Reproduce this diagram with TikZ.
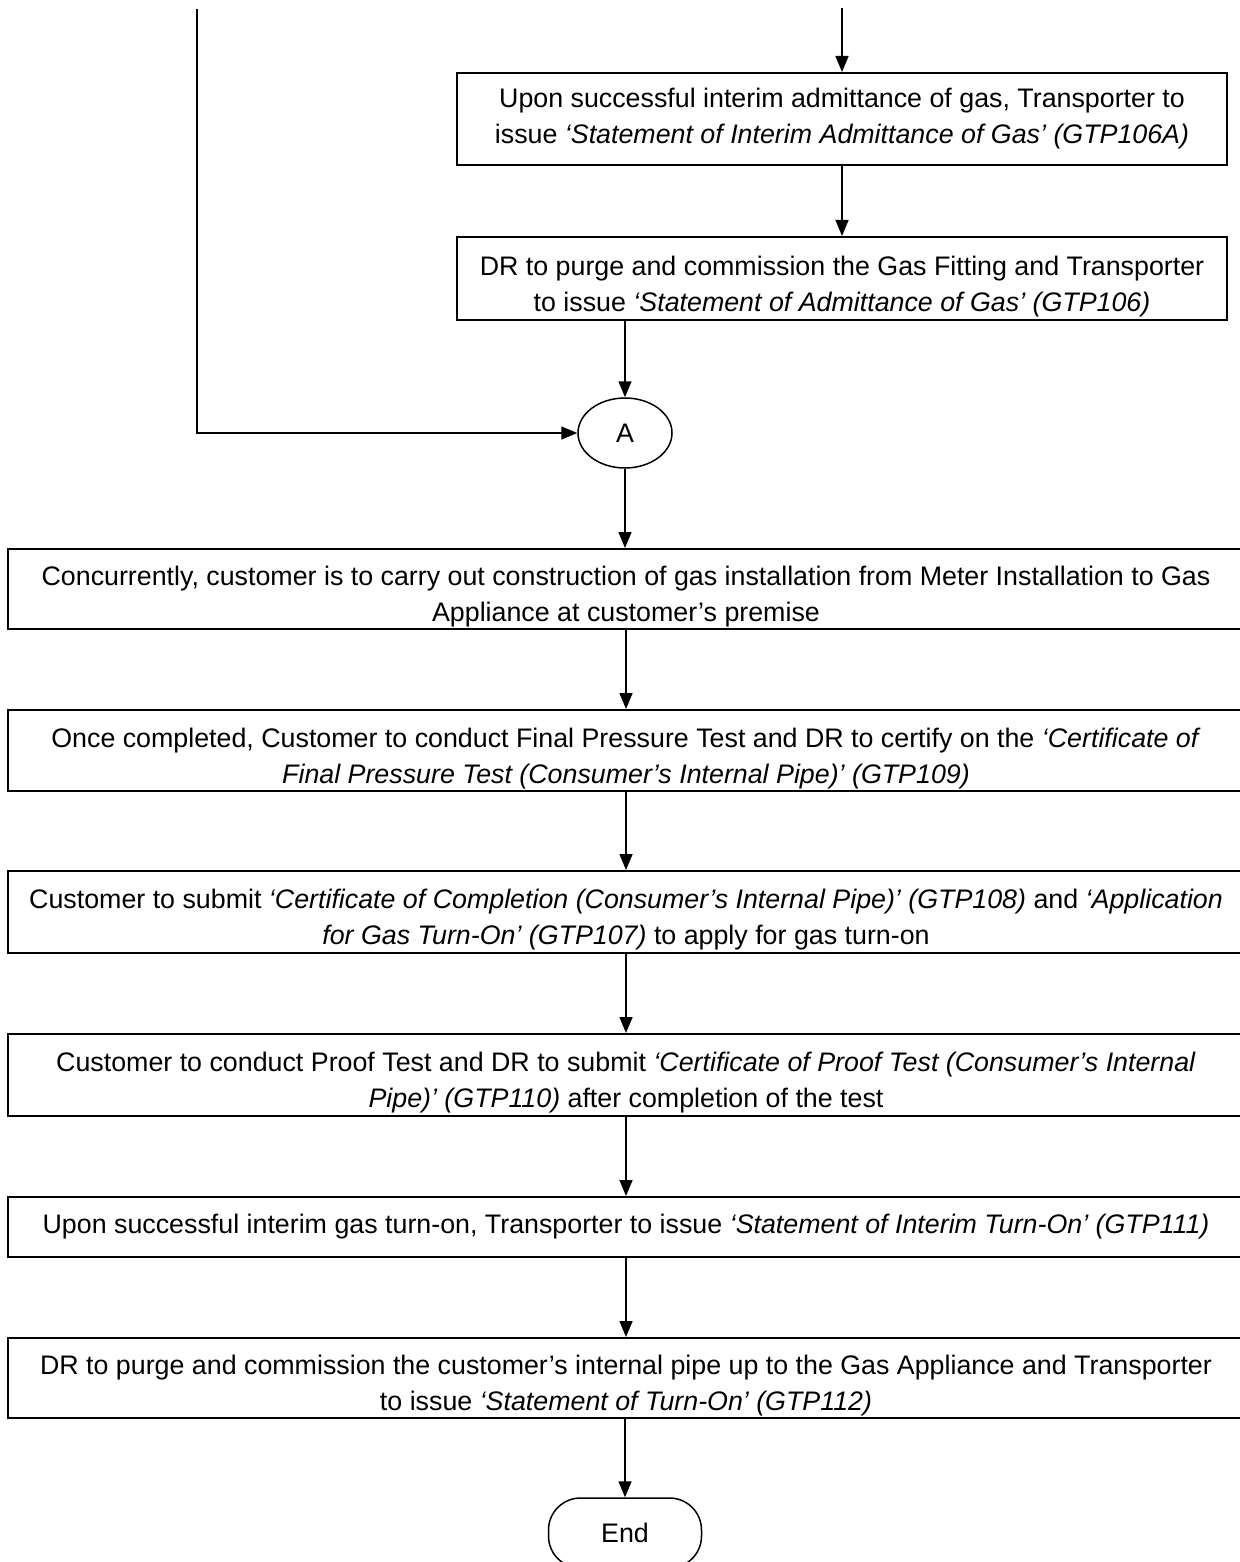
\documentclass[tikz,border=0pt]{standalone}
\usepackage{fontspec}
\setmainfont{Liberation Sans}
\usetikzlibrary{arrows.meta,shapes.geometric}
\begin{document}
\begin{tikzpicture}[x=0.5pt,y=-0.5pt,
  txt/.style={font=\fontsize{13.4}{18}\selectfont, align=center, inner sep=0pt},
  procbox/.style={txt, draw, line width=1pt, minimum width=#1},
  procbox/.default=385pt,
  wide/.style={procbox=618pt},
  lowtext/.style={text height=35.5pt},
  conn/.style={line width=0.75pt, -{Triangle[length=8pt,width=6.5pt]}},
  connector/.style={txt, draw, line width=0.75pt, ellipse, minimum width=47pt, minimum height=35pt},
  terminal/.style={txt, draw, line width=0.75pt, rounded corners=16pt, minimum width=76.5pt, minimum height=35pt}]
\useasboundingbox (0,0) rectangle (1239,1562);
\fill[white] (0,0) rectangle (1239,1562);

\coordinate (topin) at (842,8);
\coordinate (leftin) at (197,9);

\node[procbox, minimum height=46pt] (b1) at (842,119)
  {Upon successful interim admittance of gas, Transporter to\\
   issue \textit{‘Statement of Interim Admittance of Gas’ (GTP106A)}};
\node[procbox, lowtext, minimum height=41.5pt] (b2) at (842,278.5)
  {DR to purge and commission the Gas Fitting and Transporter\\
   to issue \textit{‘Statement of Admittance of Gas’ (GTP106)}};
\node[connector] (a) at (625,433) {A};
\node[wide, lowtext, minimum height=40pt] (b3) at (626,589)
  {Concurrently, customer is to carry out construction of gas installation from Meter Installation to Gas\\
   Appliance at customer’s premise};
\node[wide, lowtext, minimum height=40.5pt] (b4) at (626,750.5)
  {Once completed, Customer to conduct Final Pressure Test and DR to certify on the \textit{‘Certificate of}\\
   \textit{Final Pressure Test (Consumer’s Internal Pipe)’ (GTP109)}};
\node[wide, lowtext, minimum height=41pt] (b5) at (626,912)
  {Customer to submit \textit{‘Certificate of Completion (Consumer’s Internal Pipe)’ (GTP108)} and \textit{‘Application}\\
   \textit{for Gas Turn-On’ (GTP107)} to apply for gas turn-on};
\node[wide, lowtext, minimum height=41pt] (b6) at (626,1075)
  {Customer to conduct Proof Test and DR to submit \textit{‘Certificate of Proof Test (Consumer’s Internal}\\
   \textit{Pipe)’ (GTP110)} after completion of the test};
\node[wide, minimum height=30pt] (b7) at (626,1227)
  {Upon successful interim gas turn-on, Transporter to issue \textit{‘Statement of Interim Turn-On’ (GTP111)}};
\node[wide, lowtext, minimum height=40pt] (b8) at (626,1378)
  {DR to purge and commission the customer’s internal pipe up to the Gas Appliance and Transporter\\
   to issue \textit{‘Statement of Turn-On’ (GTP112)}};
\node[terminal] (end) at (625,1533) {End};

\draw[conn] (topin) -- (b1.north);
\draw[conn] (b1) -- (b2);
\draw[conn] (b2.south -| a.north) -- (a.north);
\draw[conn] (leftin) |- (a.west);
\draw[conn] (a) -- (a |- b3.north);
\draw[conn] (b3) -- (b4);
\draw[conn] (b4) -- (b5);
\draw[conn] (b5) -- (b6);
\draw[conn] (b6) -- (b7);
\draw[conn] (b7) -- (b8);
\draw[conn] (b8.south -| end.north) -- (end.north);
\end{tikzpicture}
\end{document}
